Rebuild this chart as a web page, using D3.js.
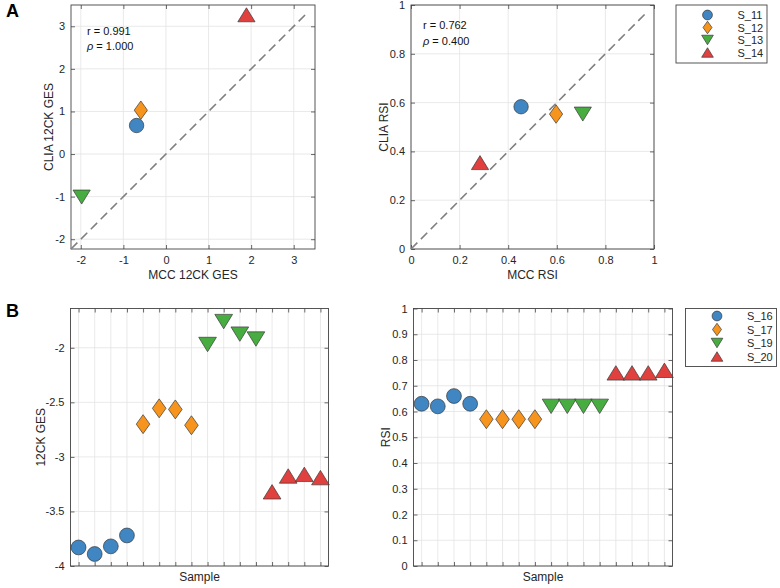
<!DOCTYPE html>
<html><head><meta charset="utf-8">
<script src="https://cdn.jsdelivr.net/npm/d3@7"></script>
<style>body{margin:0;background:#fff;} svg{font-family:"Liberation Sans",Arial,Helvetica,sans-serif;}</style>
</head><body>
<svg id="chart" width="780" height="588"></svg>
<script>
// ---------- data ----------
const groupsA = ["S_11","S_12","S_13","S_14"];
const gesMCC  = [-0.69, -0.59, -1.98, 1.89];
const gesCLIA = [0.67, 1.03, -1.01, 3.27];
const rsiMCC  = [0.453, 0.597, 0.707, 0.284];
const rsiCLIA = [0.583, 0.553, 0.553, 0.354];
const statsGES = [["r", " = 0.991"], ["\u03C1", " = 1.000"]];
const statsRSI = [["r", " = 0.762"], ["\u03C1", " = 0.400"]];

const groupsB = ["S_16","S_17","S_19","S_20"];
const sampleIdx = [1,2,3,4,5,6,7,8,9,10,11,12,13,14,15,16];
const sampleGroup = [0,0,0,0,1,1,1,1,2,2,2,2,3,3,3,3];
const sampleGES = [-3.83,-3.89,-3.82,-3.72,-2.70,-2.555,-2.565,-2.71,-1.97,-1.76,-1.875,-1.92,-3.32,-3.175,-3.16,-3.19];
const sampleRSI = [0.63,0.62,0.66,0.63,0.57,0.57,0.57,0.57,0.62,0.62,0.62,0.62,0.75,0.75,0.75,0.76];

const gesTicks = [-2,-1,0,1,2,3];
const rsiTicks = [0,0.2,0.4,0.6,0.8,1];
const gesBTicks = [-4,-3.5,-3,-2.5,-2];
const rsiBTicks = [0,0.1,0.2,0.3,0.4,0.5,0.6,0.7,0.8,0.9,1];
const diagGES = [-2.23, 3.3];
const diagRSI = [0, 0.965];

const colors = ["#3F86C3","#F7941E","#48AD41","#E0403E"];
const shapes = ["circle","diamond","down","up"];

// ---------- drawing ----------
const svg = d3.select("#chart");
const INK = "#262626";

function markerPath(shape, s) {
  if (shape === "circle") {
    const r = 7.2*s;
    return `M${-r},0A${r},${r} 0 1,0 ${r},0A${r},${r} 0 1,0 ${-r},0Z`;
  }
  if (shape === "diamond") {
    const w = 6.6*s, h = 9.2*s;
    return `M0,${-h}L${w},0L0,${h}L${-w},0Z`;
  }
  const w = 8.6*s, h = 7*s;
  if (shape === "up") return `M0,${-h}L${w},${h}L${-w},${h}Z`;
  return `M0,${h}L${w},${-h}L${-w},${-h}Z`;
}

function drawMarker(g, x, y, gi, s) {
  g.append("path").attr("d", markerPath(shapes[gi], s))
    .attr("transform", `translate(${x},${y})`)
    .attr("fill", colors[gi]).attr("stroke", "#3a3a3a").attr("stroke-width", 0.7);
}

function panel(o) {
  const g = svg.append("g");
  const x = d3.scaleLinear().domain(o.xDomain).range([o.left, o.right]);
  const y = d3.scaleLinear().domain(o.yDomain).range([o.bottom, o.top]);
  o.xTicks.forEach(t => g.append("line").attr("x1", x(t)).attr("x2", x(t)).attr("y1", o.top).attr("y2", o.bottom)
    .attr("stroke", "#e3e3e3").attr("stroke-width", 0.8));
  o.yTicks.forEach(t => g.append("line").attr("y1", y(t)).attr("y2", y(t)).attr("x1", o.left).attr("x2", o.right)
    .attr("stroke", "#e3e3e3").attr("stroke-width", 0.8));
  const fmt = d => String(d);
  const axB = d3.axisBottom(x).tickValues(o.xTicks).tickSizeInner(-4).tickSizeOuter(0).tickPadding(7)
    .tickFormat(o.xLabels ? fmt : () => "");
  const axT = d3.axisTop(x).tickValues(o.xTicks).tickSizeInner(-4).tickSizeOuter(0).tickFormat(() => "");
  const axL = d3.axisLeft(y).tickValues(o.yTicks).tickSizeInner(-4).tickSizeOuter(0).tickPadding(6).tickFormat(fmt);
  const axR = d3.axisRight(y).tickValues(o.yTicks).tickSizeInner(-4).tickSizeOuter(0).tickFormat(() => "");
  [[axB, `translate(0,${o.bottom})`],[axT, `translate(0,${o.top})`],[axL, `translate(${o.left},0)`],[axR, `translate(${o.right},0)`]]
    .forEach(([ax, tr]) => {
      const a = g.append("g").attr("transform", tr).call(ax);
      a.select(".domain").remove();
      a.selectAll("line").attr("stroke", "#444").attr("stroke-width", 0.8);
      a.selectAll("text").attr("fill", INK).style("font-size", "11px");
    });
  g.append("rect").attr("x", o.left).attr("y", o.top).attr("width", o.right - o.left).attr("height", o.bottom - o.top)
    .attr("fill", "none").attr("stroke", "#444").attr("stroke-width", 0.9);
  g.append("text").attr("x", (o.left + o.right)/2).attr("y", o.xTitleY).attr("text-anchor", "middle")
    .attr("fill", INK).style("font-size", "12px").text(o.xTitle);
  g.append("text").attr("transform", `translate(${o.yTitleX},${(o.top + o.bottom)/2}) rotate(-90)`)
    .attr("text-anchor", "middle").attr("fill", INK).style("font-size", "12px").text(o.yTitle);
  return {g, x, y};
}

function legend(x0, y0, w, h, names, rows) {
  const g = svg.append("g");
  g.append("rect").attr("x", x0).attr("y", y0).attr("width", w).attr("height", h)
    .attr("fill", "#fff").attr("stroke", "#444").attr("stroke-width", 0.9);
  names.forEach((n, i) => {
    drawMarker(g, x0 + 31.5, y0 + rows[i], i, 0.68);
    g.append("text").attr("x", x0 + 61.5).attr("y", y0 + rows[i] + 4).attr("fill", INK)
      .style("font-size", "11px").text(n);
  });
}

function stats(g, x0, y0, dy, lines) {
  lines.forEach((l, i) => {
    const t = g.append("text").attr("x", x0).attr("y", y0 + i*dy).attr("fill", "#111").style("font-size", "11px");
    t.append("tspan").attr("font-style", l[0] === "r" ? "normal" : "italic").text(l[0]);
    t.append("tspan").text(l[1]);
  });
}

// Panel A left
const pA1 = panel({left:71, right:315, top:5, bottom:249, xDomain:[-2.23,3.5], yDomain:[-2.23,3.5],
  xTicks:gesTicks, yTicks:gesTicks, xLabels:true, xTitle:"MCC 12CK GES", xTitleY:279, yTitle:"CLIA 12CK GES", yTitleX:53});
pA1.g.append("line").attr("x1", pA1.x(diagGES[0])).attr("y1", pA1.y(diagGES[0])).attr("x2", pA1.x(diagGES[1])).attr("y2", pA1.y(diagGES[1]))
  .attr("stroke", "#808080").attr("stroke-width", 1.6).attr("stroke-dasharray", "9,5");
groupsA.forEach((n, i) => drawMarker(pA1.g, pA1.x(gesMCC[i]), pA1.y(gesCLIA[i]), i, 1));
stats(pA1.g, 87, 35, 15, statsGES);

// Panel A right
const pA2 = panel({left:411, right:654, top:5, bottom:249, xDomain:[0,1], yDomain:[0,1],
  xTicks:rsiTicks, yTicks:rsiTicks, xLabels:true, xTitle:"MCC RSI", xTitleY:279, yTitle:"CLIA RSI", yTitleX:388});
pA2.g.append("line").attr("x1", pA2.x(diagRSI[0])).attr("y1", pA2.y(diagRSI[0])).attr("x2", pA2.x(diagRSI[1])).attr("y2", pA2.y(diagRSI[1]))
  .attr("stroke", "#808080").attr("stroke-width", 1.6).attr("stroke-dasharray", "9,5");
groupsA.forEach((n, i) => drawMarker(pA2.g, pA2.x(rsiMCC[i]), pA2.y(rsiCLIA[i]), i, 1));
stats(pA2.g, 423, 29, 16, statsRSI);
legend(676, 5, 91, 58, groupsA, [10, 22.5, 35, 47.5]);

// Panel B left
const pB1 = panel({left:70.5, right:328.5, top:308.5, bottom:566, xDomain:[0.5,16.5], yDomain:[-4,-1.64],
  xTicks:sampleIdx, yTicks:gesBTicks, xLabels:false, xTitle:"Sample", xTitleY:581, yTitle:"12CK GES", yTitleX:45});
sampleIdx.forEach((s, i) => drawMarker(pB1.g, pB1.x(s), pB1.y(sampleGES[i]), sampleGroup[i], 1.03));

// Panel B right
const pB2 = panel({left:413.5, right:672.5, top:308.5, bottom:566, xDomain:[0.5,16.5], yDomain:[0,1],
  xTicks:sampleIdx, yTicks:rsiBTicks, xLabels:false, xTitle:"Sample", xTitleY:581, yTitle:"RSI", yTitleX:390});
sampleIdx.forEach((s, i) => drawMarker(pB2.g, pB2.x(s), pB2.y(sampleRSI[i]), sampleGroup[i], 1.03));
legend(685.5, 308.5, 91, 58, groupsB, [7.5, 21, 34.5, 48]);

// panel letters
svg.append("text").attr("x", 6).attr("y", 17).attr("font-weight", "bold").style("font-size", "18px").attr("fill", "#000").text("A");
svg.append("text").attr("x", 6).attr("y", 317).attr("font-weight", "bold").style("font-size", "18px").attr("fill", "#000").text("B");
</script>
</body></html>
